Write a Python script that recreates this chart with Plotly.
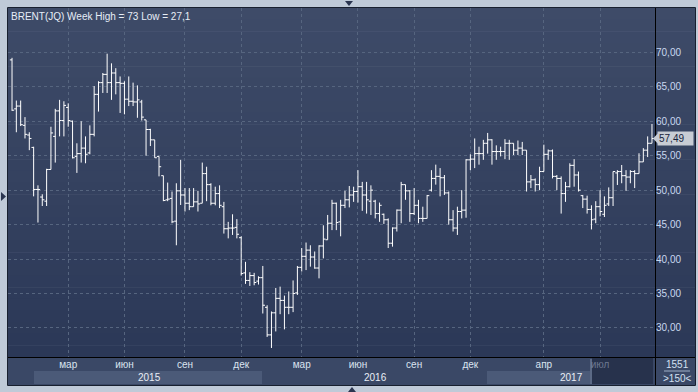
import plotly.graph_objects as go
import pandas as pd

# ---------------- data ----------------
week_start = "2014-12-05"
n_weeks = 149
weeks = pd.date_range(week_start, periods=n_weeks, freq="7D")

open_ = [68.9, 61.8, 62.2, 59.4, 58.0, 56.2, 50.1, 49.0, 48.4, 53.0,
         57.8, 61.5, 60.1, 62.0, 60.0, 54.9, 55.3, 56.1, 55.4, 58.1,
         63.9, 65.6, 66.8, 65.6, 67.0, 65.6, 65.5, 63.2, 62.9, 62.8,
         62.8, 60.2, 58.8, 57.3, 54.9, 52.1, 48.6, 48.8, 45.5, 49.9,
         49.3, 48.1, 47.6, 48.3, 48.1, 52.4, 50.8, 48.1, 49.5, 47.6,
         44.4, 44.5, 44.6, 43.1, 38.0, 36.9, 37.6, 36.8, 37.3, 33.0,
         29.0, 32.2, 34.3, 34.0, 33.0, 33.0, 35.1, 38.8, 40.4, 41.3,
         40.3, 38.7, 41.9, 42.8, 45.2, 48.1, 45.4, 47.8, 48.6, 49.3,
         49.8, 50.5, 49.3, 48.4, 48.4, 46.6, 46.5, 45.7, 42.3, 44.5,
         47.1, 50.8, 49.9, 46.6, 47.8, 45.9, 45.9, 50.0, 51.7, 52.0,
         51.8, 49.6, 45.7, 44.5, 46.9, 47.1, 54.4, 54.5, 55.3, 55.3,
         56.8, 57.3, 55.6, 55.6, 55.6, 56.8, 56.8, 55.8, 56.1, 55.8,
         51.2, 51.5, 50.8, 52.7, 55.2, 55.7, 52.0, 51.7, 49.5, 50.5,
         53.6, 52.2, 49.2, 48.7, 47.2, 45.8, 47.6, 46.5, 48.0, 48.9,
         52.5, 52.7, 52.1, 51.9, 52.7, 52.4, 54.1, 55.8, 56.8]
high = [69.2, 63.0, 63.0, 60.6, 58.4, 56.3, 50.7, 49.4, 53.1, 59.2,
        61.8, 63.1, 62.9, 62.6, 60.1, 56.8, 60.0, 57.8, 59.4, 65.1,
        65.8, 67.0, 69.8, 68.4, 67.7, 66.5, 65.8, 66.5, 65.6, 65.2,
        63.1, 60.2, 58.9, 57.3, 54.9, 52.1, 51.1, 49.8, 51.0, 54.4,
        50.3, 50.3, 50.3, 49.9, 54.0, 53.4, 51.0, 50.5, 50.7, 48.3,
        45.4, 46.5, 45.8, 43.3, 39.6, 38.1, 38.0, 37.5, 39.0, 33.3,
        32.4, 35.8, 36.0, 34.7, 35.3, 36.9, 39.0, 41.6, 42.4, 42.0,
        41.1, 42.0, 44.9, 46.4, 48.6, 48.2, 48.6, 49.9, 50.6, 50.5,
        52.9, 51.2, 51.2, 50.7, 48.6, 48.2, 46.6, 45.9, 44.6, 47.2,
        51.2, 50.8, 50.0, 50.3, 48.6, 47.6, 49.3, 52.9, 53.7, 53.2,
        52.2, 49.8, 47.1, 47.6, 50.0, 54.5, 55.2, 57.5, 56.3, 57.3,
        58.3, 57.4, 56.5, 56.3, 57.4, 57.3, 56.8, 57.2, 57.0, 55.8,
        52.2, 51.7, 53.4, 56.6, 55.9, 55.9, 52.2, 52.0, 51.2, 53.9,
        54.5, 52.7, 49.3, 49.2, 47.8, 48.4, 50.0, 49.1, 50.4, 52.7,
        52.9, 53.65, 52.9, 52.9, 52.9, 55.35, 56.1, 57.8, 59.6]
low = [61.5, 58.4, 59.3, 57.5, 55.8, 49.1, 45.3, 47.7, 47.7, 53.0,
       54.0, 57.8, 57.8, 59.2, 54.6, 52.5, 54.0, 53.9, 55.2, 57.8,
       61.4, 64.1, 64.1, 63.1, 63.9, 61.2, 61.0, 62.2, 62.2, 60.5,
       60.1, 55.0, 56.4, 54.7, 52.0, 48.4, 48.4, 45.2, 42.0, 47.85,
       46.9, 47.1, 47.6, 46.9, 48.1, 48.4, 47.8, 47.8, 47.4, 43.7,
       43.0, 43.5, 43.0, 37.6, 36.4, 36.1, 36.2, 36.3, 32.1, 28.7,
       27.1, 29.5, 32.0, 29.8, 32.0, 32.3, 34.8, 38.2, 38.4, 38.9,
       38.6, 37.2, 40.1, 42.8, 44.2, 44.2, 43.3, 47.4, 47.5, 48.3,
       48.2, 47.0, 46.6, 46.4, 45.9, 45.4, 45.1, 41.6, 41.8, 44.0,
       45.2, 48.6, 45.4, 46.4, 45.2, 45.4, 45.9, 49.8, 50.8, 49.1,
       49.3, 45.0, 44.0, 43.5, 45.9, 46.0, 52.9, 53.2, 53.7, 54.4,
       55.3, 53.7, 54.4, 54.9, 54.5, 54.4, 55.1, 55.1, 55.1, 49.8,
       50.3, 49.8, 50.0, 52.7, 54.4, 51.7, 50.0, 46.6, 48.3, 50.4,
       50.5, 49.8, 47.4, 46.6, 44.3, 45.2, 46.2, 46.1, 47.7, 47.7,
       50.75, 51.0, 49.9, 51.0, 50.3, 52.4, 54.1, 54.8, 56.8]
close = [61.6, 62.2, 59.5, 58.1, 57.5, 50.1, 50.1, 48.6, 53.0, 58.3,
         61.5, 60.1, 62.3, 60.1, 54.7, 55.3, 56.1, 55.2, 58.1, 63.9,
         65.6, 66.8, 65.6, 67.0, 65.6, 65.5, 63.2, 62.9, 62.8, 63.1,
         60.6, 58.8, 57.3, 54.7, 53.4, 48.5, 48.7, 45.4, 49.9, 49.3,
         48.1, 47.6, 48.3, 48.0, 52.4, 50.8, 48.1, 49.5, 47.8, 44.4,
         44.5, 44.5, 43.6, 37.9, 36.9, 37.6, 36.6, 37.3, 33.3, 29.0,
         32.2, 34.3, 34.0, 33.0, 33.0, 35.0, 38.8, 40.4, 41.3, 40.3,
         38.7, 41.9, 42.9, 45.2, 48.1, 45.3, 47.8, 48.6, 49.3, 49.8,
         50.5, 49.3, 48.6, 50.0, 46.6, 47.8, 45.7, 42.3, 44.5, 47.1,
         50.8, 49.9, 46.6, 47.8, 45.9, 45.9, 49.2, 51.7, 52.0, 51.8,
         49.6, 45.7, 44.5, 46.9, 47.1, 54.4, 54.5, 55.3, 55.3, 56.8,
         57.3, 55.6, 55.6, 55.6, 56.8, 56.8, 55.8, 56.1, 55.8, 51.2,
         51.5, 50.8, 52.7, 55.2, 55.7, 52.0, 51.7, 49.5, 50.5, 53.6,
         52.2, 50.0, 48.7, 47.2, 45.7, 47.6, 46.9, 47.8, 48.9, 52.7,
         52.7, 52.1, 51.9, 52.7, 52.4, 54.1, 55.8, 56.8, 57.49]

y_ticks = [30, 35, 40, 45, 50, 55, 60, 65, 70]
y_ticktext = ["30,00", "35,00", "40,00", "45,00", "50,00", "55,00", "60,00", "65,00", "70,00"]
month_tick_dates = ["2015-03-06", "2015-06-05", "2015-09-11", "2015-12-11", "2016-03-18",
                    "2016-06-17", "2016-09-16", "2016-12-16", "2017-04-14", "2017-07-14"]
month_labels = ["мар", "июн", "сен", "дек", "мар", "июн", "сен", "дек", "апр", "июл"]
years = ["2015", "2016", "2017"]
title_text = "BRENT(JQ) Week High = 73 Low = 27,1"
bar_count_text = "1551"
visible_bars_text = ">150<"

# ---------------- geometry helpers ----------------
W, H = 698, 392
L, R, T, B = 8, 655, 8, 357
PW, PH = R - L, B - T


def px(x):
    return (x - L) / PW


def py(y):
    return (B - y) / PH


FONT = "Liberation Sans"
shapes = []

# gradient background (plot + right panel)
top_c = (62, 75, 104)
bot_c = (43, 56, 87)
nb = 30
for k in range(nb):
    t0 = T + k * PH / nb
    t1 = T + (k + 1) * PH / nb
    f = (k + 0.5) / nb
    c = tuple(int(round(top_c[i] + (bot_c[i] - top_c[i]) * f)) for i in range(3))
    shapes.append(dict(type="rect", xref="paper", yref="paper", layer="below",
                       x0=px(L), x1=px(695), y0=py(t1 + 0.5), y1=py(t0),
                       fillcolor="rgb(%d,%d,%d)" % c, line=dict(width=0)))

# bottom axis band
shapes.append(dict(type="rect", xref="paper", yref="paper", layer="below",
                   x0=px(L), x1=px(695), y0=py(385), y1=py(B),
                   fillcolor="#3a4866", line=dict(width=0)))
# year boxes
for x0, x1 in [(34, 262), (487, 590)]:
    shapes.append(dict(type="rect", xref="paper", yref="paper", layer="below",
                       x0=px(x0), x1=px(x1), y0=py(384), y1=py(371),
                       fillcolor="#4b5a78", line=dict(width=0)))
# dark future box
shapes.append(dict(type="rect", xref="paper", yref="paper", layer="below",
                   x0=px(592), x1=px(653), y0=py(384), y1=py(358),
                   fillcolor="#27324c", line=dict(width=0)))
shapes.append(dict(type="line", xref="paper", yref="paper",
                   x0=px(591), x1=px(591), y0=py(384), y1=py(359),
                   line=dict(color="#7d8ba5", width=1)))
# separator in bottom-right box
shapes.append(dict(type="line", xref="paper", yref="paper",
                   x0=px(664), x1=px(690), y0=py(371), y1=py(371),
                   line=dict(color="#9fb0c8", width=1)))
# frame lines
shapes.append(dict(type="rect", xref="paper", yref="paper",
                   x0=px(7.5), x1=px(695.5), y0=py(385.5), y1=py(7.5),
                   line=dict(color="#18202f", width=1)))
shapes.append(dict(type="line", xref="paper", yref="paper",
                   x0=px(655.5), x1=px(655.5), y0=py(385), y1=py(8),
                   line=dict(color="#000000", width=1)))
shapes.append(dict(type="line", xref="paper", yref="paper",
                   x0=px(8), x1=px(695), y0=py(357.5), y1=py(357.5),
                   line=dict(color="#000000", width=1)))


def tri(points, color):
    d = "M " + " L ".join("%f,%f" % (px(a), py(b)) for a, b in points) + " Z"
    return dict(type="path", xref="paper", yref="paper", path=d,
                fillcolor=color, line=dict(width=0))


shapes.append(tri([(345, 1), (353, 1), (349, 6)], "#2a3550"))
shapes.append(tri([(348, 392), (356, 392), (352, 387)], "#2a3550"))
shapes.append(tri([(1, 192), (1, 201), (6, 196.5)], "#2a3550"))

# ---------------- figure ----------------
fig = go.Figure()
fig.add_trace(go.Ohlc(
    x=weeks, open=open_, high=high, low=low, close=close,
    increasing=dict(line=dict(color="#ffffff", width=1)),
    decreasing=dict(line=dict(color="#ffffff", width=1)),
    tickwidth=0.5, hoverinfo="skip", showlegend=False))

last_close = close[-1]
price_y = last_close
shapes.append(dict(type="path", xref="paper", yref="y",
                   path="M %f,%f L %f,%f L %f,%f Z" % (px(653), price_y, px(658), price_y + 0.75,
                                                      px(658), price_y - 0.75),
                   fillcolor="#c8ccd4", line=dict(width=0)))

annotations = [
    dict(text=title_text, xref="paper", yref="paper", x=px(9), y=py(9),
         xanchor="left", yanchor="top", showarrow=False,
         font=dict(family=FONT, size=10, color="#e6edf7")),
    dict(text=("%.2f" % last_close).replace(".", ","), xref="paper", yref="y",
         x=px(657), y=price_y, xanchor="left", yanchor="middle", showarrow=False,
         width=33, align="left", bgcolor="#c8ccd4", borderpad=1,
         font=dict(family=FONT, size=10, color="#17223a")),
    dict(text=bar_count_text, xref="paper", yref="paper", x=px(677), y=py(364.5),
         xanchor="center", yanchor="middle", showarrow=False,
         font=dict(family=FONT, size=10, color="#d3e0f2")),
    dict(text=visible_bars_text, xref="paper", yref="paper", x=px(677), y=py(378),
         xanchor="center", yanchor="middle", showarrow=False,
         font=dict(family=FONT, size=10, color="#d3e0f2")),
]
for label, xc in zip(years, [149, 375, 571]):
    annotations.append(dict(text=label, xref="paper", yref="paper", x=px(xc), y=py(377.5),
                            xanchor="center", yanchor="middle", showarrow=False,
                            font=dict(family=FONT, size=10, color="#e9eef6")))

ticktext = [("<span style='color:#6c7890'>%s</span>" % m) if i == len(month_labels) - 1 else m
            for i, m in enumerate(month_labels)]

x_start = pd.Timestamp(week_start) - pd.Timedelta(days=6.5)
x_end = weeks[-1] + pd.Timedelta(days=4.9)

fig.update_layout(
    width=W, height=H,
    margin=dict(l=L, r=W - R, t=T, b=H - B, pad=0),
    paper_bgcolor="#bfcad8",
    plot_bgcolor="rgba(0,0,0,0)",
    shapes=shapes,
    annotations=annotations,
    showlegend=False,
    xaxis=dict(type="date", range=[x_start, x_end],
               tickvals=month_tick_dates, ticktext=ticktext,
               tickfont=dict(family=FONT, size=10, color="#dbe4f0"),
               showgrid=True, gridcolor="#56657f", griddash="3px,3px", gridwidth=1,
               ticks="", showline=False, zeroline=False,
               rangeslider=dict(visible=False)),
    yaxis=dict(side="right", range=[25.79, 76.43],
               tickvals=y_ticks, ticktext=y_ticktext,
               tickfont=dict(family=FONT, size=10, color="#c9d8f0"),
               showgrid=True, gridcolor="#56657f", griddash="3px,3px", gridwidth=1,
               ticks="", showline=False, zeroline=False),
)

fig.write_html("out.html", config={"displayModeBar": False},
               post_script="document.body.style.margin='0';document.body.style.overflow='hidden';")
